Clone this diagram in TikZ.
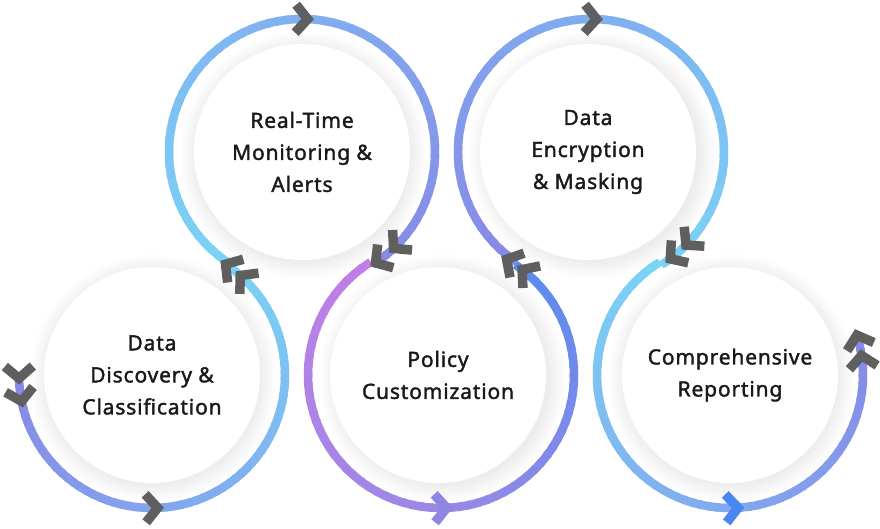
\documentclass[tikz,border=0pt]{standalone}
\usepackage{fontspec}
\setmainfont{Noto Sans}
\newfontfamily\labelfont{Noto Sans}[LetterSpace=4, FakeBold=1.7]
\usetikzlibrary{calc}

\definecolor{cyanA}{HTML}{7BD4F5}
\definecolor{blueA}{HTML}{80AEF0}
\definecolor{periA}{HTML}{8888E6}
\definecolor{orchid}{HTML}{C07EE6}
\definecolor{purpM}{HTML}{9A88E6}
\definecolor{blueB}{HTML}{568CF0}
\definecolor{chevgray}{HTML}{5F5F5F}
\definecolor{chevpurp}{HTML}{8F86E3}
\definecolor{chevblue}{HTML}{4A86F0}
\definecolor{txt}{HTML}{1A1A1A}

\tikzset{
  ringline/.style={line width=8.5pt, line cap=butt},
  disc/.style={circle, fill=white, minimum size=216pt, inner sep=0pt,
    align=center, text=txt, font=\labelfont\fontsize{21}{32}\selectfont},
  chev/.pic={\draw[line width=9.5pt, line join=miter, miter limit=20]
    (-11,14) -- (1,0) -- (-11,-14);}
}

\newcommand\gradarc[6]{%
  \foreach \k in {0,...,71}{%
    \pgfmathsetmacro\angA{#2+(#3-#2)/72*\k}%
    \pgfmathsetmacro\angB{#2+(#3-#2)/72*min(\k+1.4,72)}%
    \pgfmathtruncatemacro\pp{\k<36 ? 100-\k*100/36 : 100-(\k-36)*100/36}%
    \ifnum\k<36 \colorlet{segc}{#4!\pp!#5}\else\colorlet{segc}{#5!\pp!#6}\fi
    \draw[ringline, segc] ($(#1)+(\angA:133)$) arc[start angle=\angA, end angle=\angB, radius=133];
  }}
\newcommand\chevat[4]{\pic[rotate=#2#3, color=#4] at ($(#1)+(#2:133)$) {chev};}

\begin{document}
\begin{tikzpicture}[x=1pt,y=1pt]
\useasboundingbox (0,0) rectangle (880,528);
\fill[white] (0,0) rectangle (880,528);

\coordinate (A) at (152,153);
\coordinate (B) at (302,376);
\coordinate (C) at (441,153);
\coordinate (D) at (591,376);
\coordinate (E) at (730,153);

% shadows
\foreach \c in {A,B,C,D,E}{
  \foreach \s in {1,...,18}{
    \fill[black, opacity=0.0055] ([shift={(1.5,-3)}]\c) circle[radius=106+\s];
  }
}

% discs with text
\node[disc] (nA) at (A) {Data\\Discovery \&\\Classification};
\node[disc] (nB) at (B) {Real-Time\\Monitoring \&\\Alerts};
\node[disc] (nC) at ([xshift=-3pt]C) {Policy\\Customization};
\node[disc] (nD) at ([xshift=-3pt]D) {Data\\Encryption\\\& Masking};
\node[disc] (nE) at (E) {Comprehensive\\Reporting};

% rings
\gradarc{A}{181}{416.07}{periA}{blueA}{cyanA}
\gradarc{B}{236.07}{-58.06}{cyanA}{blueA}{periA}
\gradarc{C}{121.94}{416.07}{orchid}{purpM}{blueB}
\gradarc{D}{236.07}{-58.06}{periA}{blueA}{cyanA}
\gradarc{E}{121.94}{377}{cyanA}{blueA}{periA}

% chevrons
\chevat{A}{181}{+90}{chevgray}
\chevat{A}{191}{+90}{chevgray}
\chevat{A}{272}{+90}{chevgray}
\chevat{A}{48}{+90}{chevgray}
\chevat{A}{56}{+90}{chevgray}
\chevat{B}{88}{-90}{chevgray}
\chevat{B}{-46}{-90}{chevgray}
\chevat{B}{-56}{-90}{chevgray}
\chevat{C}{272}{+90}{chevpurp}
\chevat{C}{52}{+90}{chevgray}
\chevat{C}{60}{+90}{chevgray}
\chevat{D}{88}{-90}{chevgray}
\chevat{D}{-44}{-90}{chevgray}
\chevat{D}{-53}{-90}{chevgray}
\chevat{E}{273}{+90}{chevblue}
\chevat{E}{8}{+90}{chevgray}
\chevat{E}{17}{+90}{chevgray}
\end{tikzpicture}
\end{document}
